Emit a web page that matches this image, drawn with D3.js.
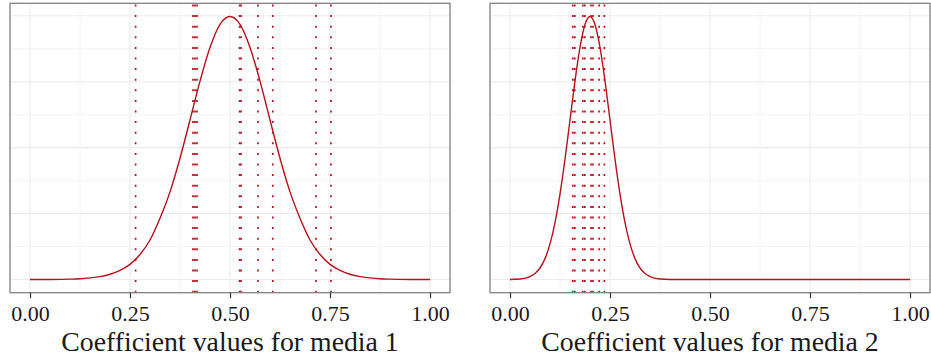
<!DOCTYPE html>
<html>
<head>
<meta charset="utf-8">
<script src="https://cdn.jsdelivr.net/npm/d3@7"></script>
<style>
  html, body { margin: 0; padding: 0; background: #fff; }
  svg { display: block; }
  text { font-family: "Liberation Serif", "DejaVu Serif", serif; fill: #1a1a1a; }
</style>
</head>
<body>
<svg id="chart" width="931" height="358"></svg>
<script>
// Axis ticks shared by both panels
const xTicks = [0, 0.25, 0.5, 0.75, 1];
const xTickLabels = ["0.00", "0.25", "0.50", "0.75", "1.00"];

// Media 1: prior density curve
const media1X = [0, 0.05, 0.1, 0.125, 0.15, 0.175, 0.2, 0.225, 0.25, 0.275, 0.3, 0.325, 0.35, 0.375,
  0.4, 0.425, 0.45, 0.475, 0.5, 0.525, 0.55, 0.575, 0.6, 0.625, 0.65, 0.675, 0.7, 0.725, 0.75,
  0.775, 0.8, 0.825, 0.85, 0.875, 0.9, 0.95, 1];
const media1Density = [0, 0.001, 0.006, 0.012, 0.025, 0.045, 0.08, 0.14, 0.23, 0.38, 0.6, 0.93, 1.33, 1.84,
  2.42, 3.01, 3.52, 3.87, 3.99, 3.87, 3.52, 3.01, 2.42, 1.84, 1.33, 0.93, 0.6, 0.38, 0.23,
  0.14, 0.08, 0.045, 0.025, 0.012, 0.006, 0.001, 0];
// Media 1: sampled coefficient values
const media1Draws = [0.264, 0.4075, 0.4125, 0.4175, 0.524, 0.5275, 0.57, 0.607, 0.715, 0.7525];

// Media 2: prior density curve
const media2X = [0, 0.025, 0.05, 0.0625, 0.075, 0.0875, 0.1, 0.1125, 0.125, 0.1375, 0.15, 0.1625,
  0.175, 0.1875, 0.2, 0.2125, 0.225, 0.2375, 0.25, 0.2625, 0.275, 0.2875, 0.3, 0.3125, 0.325,
  0.3375, 0.35, 0.375, 0.4, 0.5, 0.6, 0.7, 0.8, 0.9, 1];
const media2Density = [0.003, 0.017, 0.089, 0.182, 0.35, 0.635, 1.08, 1.726, 2.591, 3.653, 4.839, 6.023,
  7.041, 7.733, 7.979, 7.733, 7.041, 6.023, 4.839, 3.653, 2.591, 1.726, 1.08, 0.635, 0.35,
  0.182, 0.089, 0.017, 0.003, 0, 0, 0, 0, 0, 0];
// Media 2: sampled coefficient values
const media2Draws = [0.157, 0.162, 0.182, 0.187, 0.2025, 0.2075, 0.223, 0.236];

const titles = ["Coefficient values for media 1", "Coefficient values for media 2"];

const RED = "#B5121B";
const svg = d3.select("#chart");

function drawPanel(left, xs, dens, draws, title) {
  const top = 3.3, bottom = 292.7, width = 440;
  const g = svg.append("g");

  const x = d3.scaleLinear().domain([-0.05, 1.05]).range([left, left + width]);
  const yMax = d3.max(dens);
  const pad = yMax * 0.05;
  const y = d3.scaleLinear().domain([-pad, yMax + pad]).range([bottom, top]);

  // minor and major grid
  const xMinor = d3.range(xTicks.length - 1).map(i => (xTicks[i] + xTicks[i + 1]) / 2);
  const yMajor = y.ticks(5);
  const yMinor = d3.range(yMajor.length - 1).map(i => (yMajor[i] + yMajor[i + 1]) / 2);

  g.selectAll(".xminor").data(xMinor).join("line")
    .attr("x1", d => x(d)).attr("x2", d => x(d)).attr("y1", top).attr("y2", bottom)
    .attr("stroke", "#F4F4F4").attr("stroke-width", 1);
  g.selectAll(".yminor").data(yMinor).join("line")
    .attr("x1", left).attr("x2", left + width).attr("y1", d => y(d)).attr("y2", d => y(d))
    .attr("stroke", "#F4F4F4").attr("stroke-width", 1);
  g.selectAll(".xmajor").data(xTicks).join("line")
    .attr("x1", d => x(d)).attr("x2", d => x(d)).attr("y1", top).attr("y2", bottom)
    .attr("stroke", "#EBEBEB").attr("stroke-width", 1.1);
  g.selectAll(".ymajor").data(yMajor).join("line")
    .attr("x1", left).attr("x2", left + width).attr("y1", d => y(d)).attr("y2", d => y(d))
    .attr("stroke", "#EBEBEB").attr("stroke-width", 1.1);

  // sampled values as dotted verticals, dashes laid from the bottom up
  g.selectAll(".draw").data(draws).join("line")
    .attr("x1", d => x(d)).attr("x2", d => x(d))
    .attr("y1", bottom).attr("y2", top)
    .attr("stroke", RED).attr("stroke-width", 1.7)
    .attr("stroke-dasharray", "2 8.6");

  // density curve
  const line = d3.line().x(d => x(d[0])).y(d => y(d[1])).curve(d3.curveMonotoneX);
  g.append("path").datum(xs.map((v, i) => [v, dens[i]]))
    .attr("d", line).attr("fill", "none")
    .attr("stroke", RED).attr("stroke-width", 1.4);

  // panel border
  g.append("rect").attr("x", left).attr("y", top).attr("width", width).attr("height", bottom - top)
    .attr("fill", "none").attr("stroke", "#808080").attr("stroke-width", 1.3);

  // bottom axis
  const axis = d3.axisBottom(x).tickValues(xTicks).tickFormat((d, i) => xTickLabels[i])
    .tickSizeInner(5.5).tickSizeOuter(0).tickPadding(5);
  const ax = g.append("g").attr("transform", `translate(0,${bottom})`).call(axis);
  ax.select(".domain").remove();
  ax.selectAll(".tick line").attr("stroke", "#333").attr("stroke-width", 1.2);
  ax.selectAll(".tick text").attr("font-size", 22).attr("fill", "#1a1a1a")
    .attr("font-family", "Liberation Serif, serif").attr("dy", null).attr("y", 28.5);

  g.append("text").attr("x", left + width / 2).attr("y", 351)
    .attr("text-anchor", "middle").attr("font-size", 27.8).text(title);
}

drawPanel(10, media1X, media1Density, media1Draws, titles[0]);
drawPanel(490, media2X, media2Density, media2Draws, titles[1]);
</script>
</body>
</html>
